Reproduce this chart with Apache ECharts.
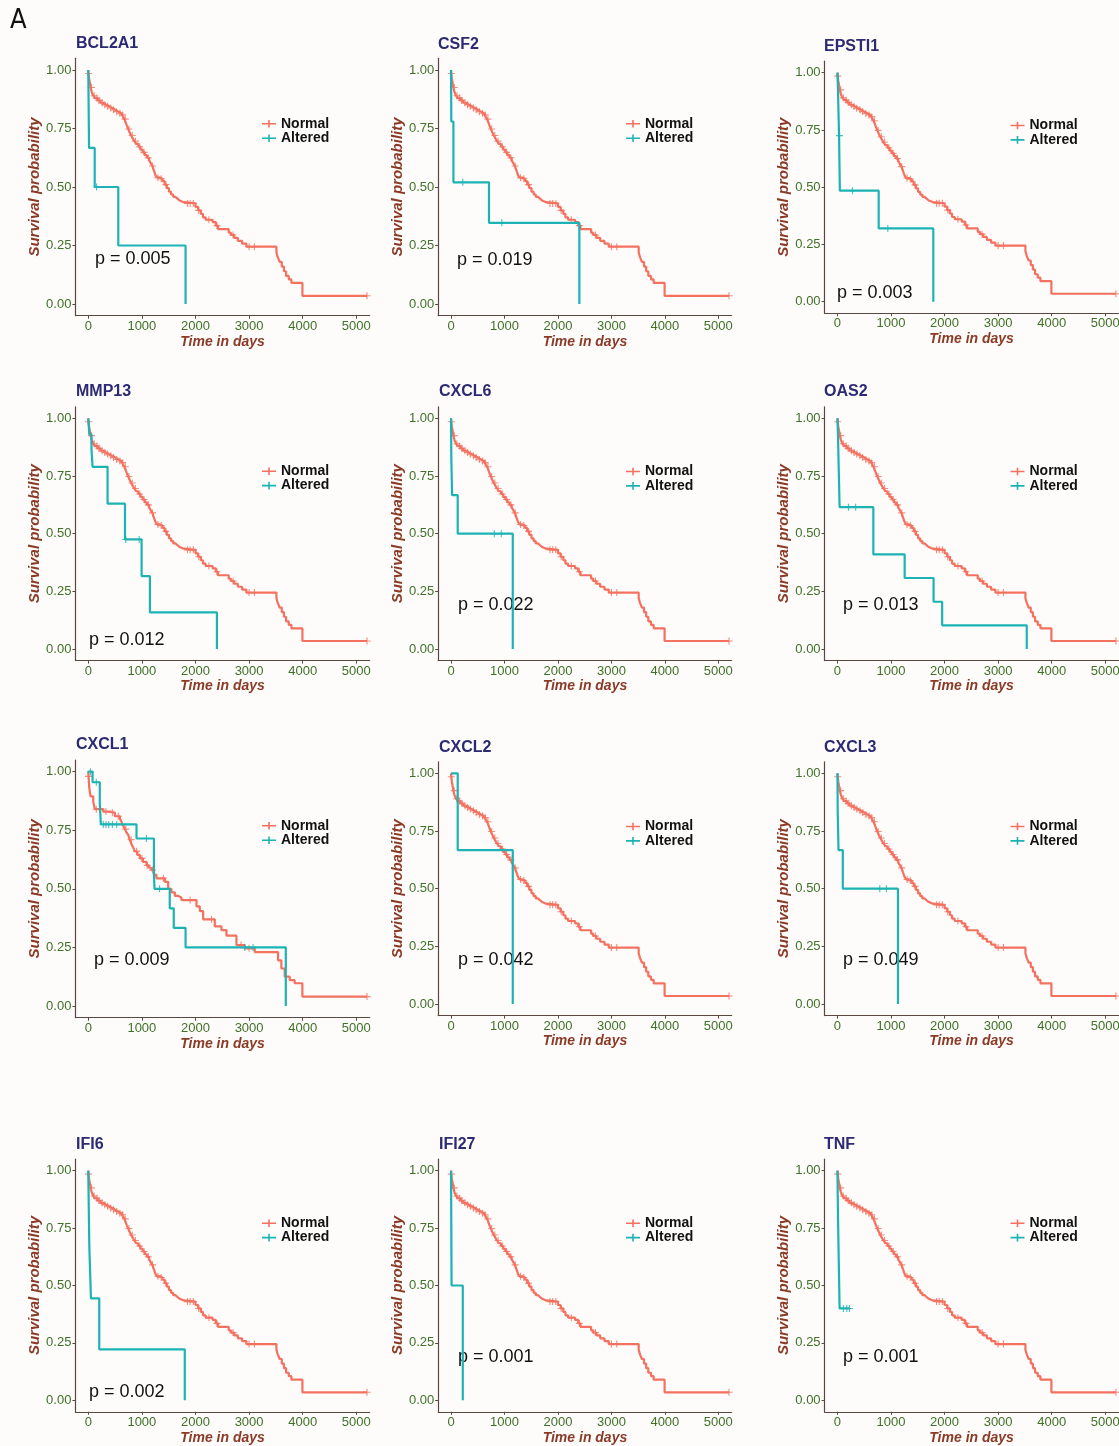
<!DOCTYPE html>
<html><head><meta charset="utf-8">
<script src="https://cdn.jsdelivr.net/npm/echarts@6/dist/echarts.min.js"></script>
<style>html,body{margin:0;padding:0;background:#fdfcfa}#c{width:1119px;height:1446px}</style>
</head><body><div id="c"></div>
<script>
// ---------------- DATA ----------------
const genes = ['BCL2A1','CSF2','EPSTI1','MMP13','CXCL6','OAS2','CXCL1','CXCL2','CXCL3','IFI6','IFI27','TNF'];
const pValues = ['0.005','0.019','0.003','0.012','0.022','0.013','0.009','0.042','0.049','0.002','0.001','0.001'];
const xTicks = [0,1000,2000,3000,4000,5000];
const yTicks = [0,0.25,0.5,0.75,1];
const groupNames = ['Normal','Altered'];

// Normal group Kaplan-Meier steps [time, survival]
const normalSteps = [[0,1],[5,0.985],[15,0.965],[30,0.945],[45,0.925],[65,0.905],[95,0.89],[130,0.88],[175,0.87],[225,0.86],[275,0.852],[330,0.845],[385,0.838],[440,0.83],[500,0.822],[560,0.815],[615,0.808],[650,0.8],[675,0.79],[700,0.775],[720,0.762],[745,0.748],[770,0.735],[800,0.72],[830,0.708],[860,0.696],[895,0.684],[935,0.672],[975,0.66],[1015,0.648],[1055,0.636],[1095,0.625],[1135,0.614],[1165,0.602],[1195,0.59],[1225,0.57],[1255,0.55],[1285,0.54],[1330,0.535],[1385,0.525],[1425,0.51],[1465,0.495],[1505,0.48],[1545,0.468],[1585,0.458],[1625,0.45],[1665,0.442],[1705,0.435],[1780,0.43],[2000,0.415],[2050,0.4],[2100,0.385],[2140,0.37],[2190,0.36],[2320,0.35],[2380,0.335],[2420,0.32],[2620,0.305],[2660,0.295],[2720,0.283],[2790,0.27],[2870,0.258],[2950,0.245],[3510,0.22],[3535,0.2],[3570,0.18],[3610,0.16],[3650,0.14],[3690,0.12],[3740,0.105],[3790,0.09],[3995,0.035],[5200,0.035]];
const normalCensor = [5,60,110,160,200,260,310,360,420,470,530,590,640,690,760,820,880,960,1040,1120,1200,1300,1360,1450,1850,1900,1960,2060,2250,2400,2700,3000,3100,5200];

// CXCL1 normal group differs slightly
const cxcl1NormalSteps = [[0,1],[5,0.98],[19,0.93],[43,0.895],[93,0.87],[124,0.84],[280,0.83],[404,0.825],[497,0.81],[590,0.8],[621,0.785],[650,0.77],[683,0.755],[715,0.74],[745,0.73],[775,0.71],[807,0.69],[840,0.675],[870,0.66],[915,0.645],[963,0.63],[1020,0.615],[1087,0.6],[1130,0.59],[1180,0.58],[1225,0.56],[1273,0.545],[1429,0.53],[1491,0.5],[1550,0.485],[1615,0.47],[1680,0.462],[1739,0.452],[2019,0.425],[2081,0.405],[2143,0.37],[2360,0.34],[2484,0.324],[2578,0.3],[2764,0.26],[2919,0.246],[3106,0.23],[3540,0.195],[3602,0.16],[3665,0.125],[3758,0.11],[3850,0.097],[3994,0.04],[5200,0.04]];
const cxcl1NormalCensor = [5,150,220,330,450,560,700,800,900,1000,1100,1200,1400,1900,2300,2850,3000,5200];

// Altered group steps and censor times per gene
const alteredBCL2A1 = [[0,1],[15,0.667],[120,0.5],[560,0.25],[1815,0]];
const censorBCL2A1 = [155];
const alteredCSF2 = [[0,1],[5,0.78],[45,0.52],[710,0.347],[2400,0]];
const censorCSF2 = [220,950];
const alteredEPSTI1 = [[0,1],[10,0.92],[30,0.725],[45,0.485],[770,0.32],[1790,0]];
const censorEPSTI1 = [38,280,940];
const alteredMMP13 = [[0,1],[20,0.93],[60,0.865],[80,0.79],[360,0.63],[685,0.475],[995,0.316],[1150,0.159],[2400,0]];
const censorMMP13 = [700,950];
const alteredCXCL6 = [[0,1],[5,0.833],[20,0.667],[125,0.5],[1155,0]];
const censorCXCL6 = [810,940];
const alteredOAS2 = [[0,1],[10,0.92],[25,0.77],[40,0.615],[670,0.41],[1255,0.308],[1795,0.205],[1955,0.103],[3535,0]];
const censorOAS2 = [205,340];
const alteredCXCL1 = [[0,1],[80,0.955],[215,0.865],[235,0.775],[900,0.715],[1225,0.573],[1235,0.5],[1520,0.417],[1595,0.333],[1815,0.25],[3685,0]];
const censorCXCL1 = [40,150,280,330,380,450,530,1085,1330,2920,3075];
const alteredCXCL2 = [[0,1],[125,0.667],[1155,0]];
const censorCXCL2 = [];
const alteredCXCL3 = [[0,1],[5,0.833],[20,0.667],[100,0.5],[1130,0]];
const censorCXCL3 = [790,915];
const alteredIFI6 = [[0,1],[20,0.667],[50,0.444],[205,0.222],[1800,0]];
const censorIFI6 = [];
const alteredIFI27 = [[0,1],[10,0.5],[220,0]];
const censorIFI27 = [];
const alteredTNF = [[0,1],[10,0.8],[25,0.6],[40,0.4],[225,0.4]];
const censorTNF = [110,175,225];

// ---------------- BUILD ----------------
const alteredSteps = [alteredBCL2A1,alteredCSF2,alteredEPSTI1,alteredMMP13,alteredCXCL6,alteredOAS2,alteredCXCL1,alteredCXCL2,alteredCXCL3,alteredIFI6,alteredIFI27,alteredTNF];
const alteredCensor = [censorBCL2A1,censorCSF2,censorEPSTI1,censorMMP13,censorCXCL6,censorOAS2,censorCXCL1,censorCXCL2,censorCXCL3,censorIFI6,censorIFI27,censorTNF];

function survAt(steps, t){ let v = steps[0][1]; for (const [tt,s] of steps){ if (tt<=t) v=s; } return v; }

const RED = '#F4705F', CYAN = '#1DB3B5';
const AXIS = '#5a4840', GREEN = '#3f7128', BROWN = '#8b3a26', NAVY = '#2b2a72';
const PLUS = 'path://M0,4.2H10V5.8H0Z M4.2,0H5.8V10H4.2Z';
const LEG_ICON = 'path://M0,4.2H14V5.8H0Z M6.2,1.2H7.8V8.8H6.2Z';

const colLeft = [75.4, 438.2, 824.6];
const colWidth = [294.3, 293.5, 294];
const panelTop = [58.3,58.3,61.2, 406.8,406.8,406.8, 760,761.8,761.8, 1159.2,1159.2,1159.2];
const panelH   = [257.4,257.4,252, 253.8,253.8,253.8, 257.7,253.8,253.8, 252.6,252.6,252.6];
const titlePos = [[76,44],[438,45],[824,47],[76,392],[439,392],[824,392],[76,745],[439,748],[824,748],[76,1145],[439,1145],[824,1145]];
const pPos = [[95,259],[457,260],[837,293],[89,640],[458,605],[843,605],[94,960],[458,960],[843,960],[89,1392],[458,1357],[843,1357]];
const legPos = [[262,116.8],[626,116.8],[1010.5,118.5],[262,464.2],[626,464.5],[1010.5,464.5],[262,818.8],[626,819.5],[1010.5,819.5],[262,1216.2],[626,1216.2],[1010.5,1216.2]];

const FONT = '"Liberation Sans", Arial, sans-serif';
const grids=[], xAxes=[], yAxes=[], series=[], legends=[], gfx=[];

gfx.push({type:'text', x:10, y:21, style:{text:'A', font:'27px "Liberation Sans Narrow", "DejaVu Sans Condensed", sans-serif', fill:'#111', verticalAlign:'middle'}});

genes.forEach((g,i)=>{
  const c = i%3;
  grids.push({left:colLeft[c], top:panelTop[i], width:colWidth[c], height:panelH[i], containLabel:false, outerBoundsMode:'none'});
  xAxes.push({type:'value', gridIndex:i, min:-240, max:5250,
    name:'Time in days', nameLocation:'middle', nameGap:19,
    nameTextStyle:{color:BROWN, fontStyle:'italic', fontWeight:'bold', fontSize:14, fontFamily:FONT},
    axisLine:{show:true, onZero:false, lineStyle:{color:AXIS, width:1.2}},
    axisTick:{show:true, length:3, customValues:xTicks, lineStyle:{color:AXIS}},
    axisLabel:{customValues:xTicks, color:GREEN, fontSize:13, fontFamily:FONT, margin:4, formatter:v=>String(v)},
    splitLine:{show:false}});
  yAxes.push({type:'value', gridIndex:i, min:-0.05, max:1.05,
    name:'Survival probability', nameLocation:'middle', nameGap:26,
    nameTextStyle:{color:BROWN, fontStyle:'italic', fontWeight:'bold', fontSize:15, fontFamily:FONT},
    axisLine:{show:true, onZero:false, lineStyle:{color:AXIS, width:1.2}},
    axisTick:{show:true, length:3, customValues:yTicks, lineStyle:{color:AXIS}},
    axisLabel:{customValues:yTicks, color:GREEN, fontSize:13, fontFamily:FONT, margin:4, formatter:v=>v.toFixed(2)},
    splitLine:{show:false}});

  const nSteps = g==='CXCL1' ? cxcl1NormalSteps : normalSteps;
  const nCens  = g==='CXCL1' ? cxcl1NormalCensor : normalCensor;
  const aSteps = alteredSteps[i], aCens = alteredCensor[i];

  series.push({name:'Normal', type:'line', step:'end', xAxisIndex:i, yAxisIndex:i, data:nSteps, showSymbol:false, symbol:'none', color:RED, lineStyle:{color:RED, width:2.2}, silent:true, animation:false, z:2});
  series.push({name:'Normal censor', type:'scatter', xAxisIndex:i, yAxisIndex:i, data:nCens.map(t=>[t,survAt(nSteps,t)]), symbol:PLUS, symbolSize:7, itemStyle:{color:RED}, silent:true, animation:false, z:2});
  series.push({name:'Altered', type:'line', step:'end', xAxisIndex:i, yAxisIndex:i, data:aSteps, showSymbol:false, symbol:'none', color:CYAN, lineStyle:{color:CYAN, width:2.2}, silent:true, animation:false, z:3});
  series.push({name:'Altered censor', type:'scatter', xAxisIndex:i, yAxisIndex:i, data:aCens.map(t=>[t,survAt(aSteps,t)]), symbol:PLUS, symbolSize:7, itemStyle:{color:CYAN}, silent:true, animation:false, z:3});

  legends.push({left:legPos[i][0], top:legPos[i][1], orient:'vertical', padding:0, itemGap:0.4, itemWidth:14, itemHeight:9, itemTextGap:5,
    icon:LEG_ICON, data:groupNames, selectedMode:false,
    textStyle:{fontSize:14, fontWeight:'bold', color:'#111', fontFamily:FONT, lineHeight:13}});

  gfx.push({type:'text', x:titlePos[i][0], y:titlePos[i][1], style:{text:g, font:'bold 16px '+FONT, fill:NAVY, verticalAlign:'middle'}});
  gfx.push({type:'text', x:pPos[i][0], y:pPos[i][1], style:{text:'p = '+pValues[i], font:'18px '+FONT, fill:'#111', verticalAlign:'middle'}});
});

const chart = echarts.init(document.getElementById('c'), null, {renderer:'canvas'});
chart.setOption({
  backgroundColor:'#fdfcfa',
  animation:false,
  grid:grids, xAxis:xAxes, yAxis:yAxes, series:series, legend:legends,
  graphic:{elements:gfx}
});
</script></body></html>
